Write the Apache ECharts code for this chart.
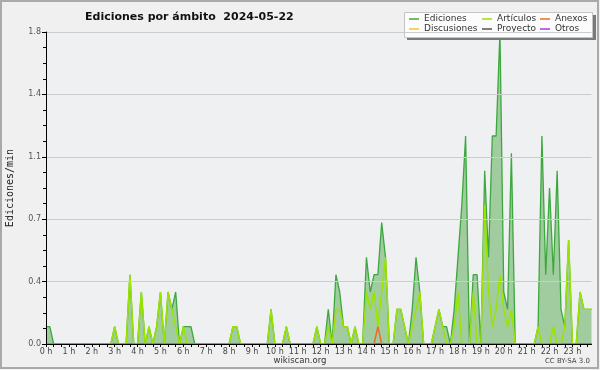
<!DOCTYPE html>
<html>
<head>
<meta charset="utf-8">
<script src="https://cdn.jsdelivr.net/npm/echarts@6/dist/echarts.min.js"></script>
<style>
html,body{margin:0;padding:0;background:#F0F0F0;}
#chart{width:600px;height:370px;}
</style>
</head>
<body>
<div id="chart"></div>
<script>
// Tick labels (every 6th point = 1 hour; data every 10 minutes)
const hourLabels = ['0 h','1 h','2 h','3 h','4 h','5 h','6 h','7 h','8 h','9 h','10 h','11 h',
  '12 h','13 h','14 h','15 h','16 h','17 h','18 h','19 h','20 h','21 h','22 h','23 h'];
const yTickLabels = ['0.0','0.4','0.7','1.1','1.4','1.8'];

// Ediciones/min, 10-minute bins (144 points)
const ediciones = [
  0.1,0.1,0,0,0,0, 0,0,0,0,0,0, 0,0,0,0,0,0, 0.1,0,0,0,0.4,0,
  0,0.3,0,0.1,0,0.1, 0.3,0,0.3,0.2,0.3,0, 0.1,0.1,0.1,0,0,0, 0,0,0,0,0,0,
  0,0.1,0.1,0,0,0, 0,0,0,0,0,0.2, 0,0,0,0.1,0,0, 0,0,0,0,0,0.1,
  0,0,0.2,0,0.4,0.3, 0.1,0.1,0,0.1,0,0, 0.5,0.3,0.4,0.4,0.7,0.5, 0,0,0.2,0.2,0.1,0,
  0.2,0.5,0.3,0,0,0, 0.1,0.2,0.1,0.1,0,0.2, 0.5,0.8,1.2,0,0.4,0.4, 0,1.0,0.5,1.2,1.2,1.8,
  0.3,0.2,1.1,0,0,0, 0,0,0,0.1,1.2,0.4, 0.9,0.4,1.0,0.2,0.1,0.6, 0,0,0.3,0.2,0.2,0.2
];
const articulos = [
  0,0,0,0,0,0, 0,0,0,0,0,0, 0,0,0,0,0,0, 0.1,0,0,0,0.4,0,
  0,0.3,0,0.1,0,0.1, 0.3,0,0.3,0.2,0.1,0, 0.1,0,0,0,0,0, 0,0,0,0,0,0,
  0,0.1,0.1,0,0,0, 0,0,0,0,0,0.2, 0,0,0,0.1,0,0, 0,0,0,0,0,0.1,
  0,0,0.1,0,0.2,0.2, 0.1,0.1,0,0.1,0,0, 0.3,0.2,0.3,0.1,0.3,0.5, 0,0,0.2,0.2,0.1,0,
  0.1,0.2,0.3,0,0,0, 0.1,0.2,0.1,0,0,0.1, 0.3,0,0,0,0.3,0, 0,0.8,0.3,0.1,0.2,0.4,
  0.2,0.1,0.2,0,0,0, 0,0,0,0.1,0,0, 0,0.1,0,0,0.1,0.6, 0,0,0.3,0.2,0.2,0.2
];
const anexos = [
  0,0,0,0,0,0, 0,0,0,0,0,0, 0,0,0,0,0,0, 0,0,0,0,0,0,
  0,0,0,0,0,0, 0,0,0,0,0,0, 0,0,0,0,0,0, 0,0,0,0,0,0,
  0,0,0,0,0,0, 0,0,0,0,0,0, 0,0,0,0,0,0, 0,0,0,0,0,0,
  0,0,0,0,0,0, 0,0,0,0,0,0, 0,0,0,0.1,0,0, 0,0,0,0,0,0,
  0,0,0,0,0,0, 0,0,0,0,0,0, 0,0,0,0,0,0, 0,0,0,0,0,0,
  0,0,0,0,0,0, 0,0,0,0,0,0, 0,0,0,0,0,0, 0,0,0,0,0,0
];
const discusiones = [
  0,0,0,0,0,0, 0,0,0,0,0,0, 0,0,0,0,0,0, 0,0,0,0,0,0,
  0,0,0,0,0,0, 0,0,0,0,0,0, 0,0,0,0,0,0, 0,0,0,0,0,0,
  0,0,0,0,0,0, 0,0,0,0,0,0, 0,0,0,0,0,0, 0,0,0,0,0,0,
  0,0,0,0,0,0, 0,0,0,0,0,0, 0,0,0,0,0,0, 0,0,0,0,0,0,
  0,0,0,0,0,0, 0,0,0,0,0,0, 0,0,0,0,0,0, 0,0,0,0,0,0,
  0,0,0,0,0,0, 0,0,0,0,0,0, 0,0,0,0,0,0, 0,0,0,0,0,0
];
const proyecto = discusiones.slice();
const otros = discusiones.slice();

const categories = [];
hourLabels.forEach(function (h, hi) {
  for (let m = 0; m < 6; m++) categories.push(hi + ':' + m + '0');
});

const chart = echarts.init(document.getElementById('chart'), null, {renderer: 'canvas', width: 600, height: 370});
const legendText = {fontSize: 9, fontFamily: 'DejaVu Sans', color: '#333', lineHeight: 10};
function legendAt(names, left) {
  return {data: names, orient: 'vertical', left: left, top: 14, itemWidth: 10, itemHeight: 1.5,
    itemGap: 0, icon: 'rect', selectedMode: false, padding: 0, textStyle: legendText, z: 6};
}
function lineSeries(name, data, color, width, z) {
  return {name: name, type: 'line', data: data, showSymbol: false, symbol: 'none',
    lineStyle: {color: color, width: width}, itemStyle: {color: color}, z: z, animation: false};
}

chart.setOption({
  backgroundColor: '#F0F0F0',
  animation: false,
  title: {text: 'Ediciones por ámbito  2024-05-22', left: 80, top: 7,
    textStyle: {fontSize: 11, fontWeight: 'bold', fontFamily: 'DejaVu Sans', color: '#111'}},
  legend: [
    legendAt(['Ediciones', 'Discusiones'], 409),
    legendAt(['Artículos', 'Proyecto'], 482),
    legendAt(['Anexos', 'Otros'], 540)
  ],
  grid: {left: 46, top: 32, right: 8.5, bottom: 26, show: true, backgroundColor: '#EFF0F2', borderWidth: 0,
    containLabel: false, outerBoundsMode: 'none'},
  xAxis: {
    type: 'category', data: categories, boundaryGap: false, z: 10,
    axisLine: {lineStyle: {color: '#000', width: 1}},
    axisTick: {show: true, interval: 1, length: 3, lineStyle: {color: '#000'}},
    axisLabel: {interval: 5, margin: 4, fontSize: 8, fontFamily: 'DejaVu Sans', color: '#444',
      formatter: function (v, idx) { return idx % 6 === 0 ? hourLabels[idx / 6] : ''; }},
    splitLine: {show: false}
  },
  yAxis: {
    type: 'value', min: 0, max: 1.8, interval: 0.36, z: 10,
    name: 'Ediciones/min', nameLocation: 'middle', nameRotate: 90, nameGap: 31,
    nameTextStyle: {fontSize: 10, fontFamily: 'DejaVu Sans Mono', color: '#222'},
    axisLine: {show: true, lineStyle: {color: '#000', width: 1}},
    axisTick: {show: true, length: 4, lineStyle: {color: '#000'}},
    minorTick: {show: true, splitNumber: 4, length: 3, lineStyle: {color: '#000'}},
    axisLabel: {fontSize: 8, fontFamily: 'DejaVu Sans', color: '#555', margin: 5,
      formatter: function (v) { return yTickLabels[Math.round(v / 0.36)]; }},
    splitLine: {show: true, lineStyle: {color: '#CCCCCC', width: 1}}
  },
  series: [
    Object.assign(lineSeries('Ediciones', ediciones, '#3DA83D', 1.3, 2), {areaStyle: {color: '#A0CCA0', opacity: 1}}),
    lineSeries('Discusiones', discusiones, '#F7C531', 1.3, 2),
    lineSeries('Proyecto', proyecto, '#555555', 1.3, 2),
    lineSeries('Otros', otros, '#9A40E8', 1.3, 2),
    lineSeries('Artículos', articulos, '#9BE300', 1.5, 3),
    lineSeries('Anexos', anexos, '#EE6A2A', 1.5, 3)
  ],
  graphic: [
    {type: 'rect', z: 4, shape: {x: 1, y: 1, width: 597, height: 367}, style: {fill: 'none', stroke: '#AAAAAA', lineWidth: 2}},
    {type: 'rect', z: 4, shape: {x: 407, y: 15, width: 189, height: 25}, style: {fill: '#7A7A7A'}},
    {type: 'rect', z: 5, shape: {x: 404.5, y: 12.5, width: 188, height: 25}, style: {fill: '#FCFCFC', stroke: '#C4C4C4', lineWidth: 1}},
    {type: 'text', z: 5, left: 'center', top: 356, style: {text: 'wikiscan.org', fontSize: 8.5, fontFamily: 'DejaVu Sans', fill: '#333'}},
    {type: 'text', z: 5, right: 10, top: 358, style: {text: 'CC BY-SA 3.0', fontSize: 7, fontFamily: 'DejaVu Sans', fill: '#444'}}
  ]
});
</script>
</body>
</html>
